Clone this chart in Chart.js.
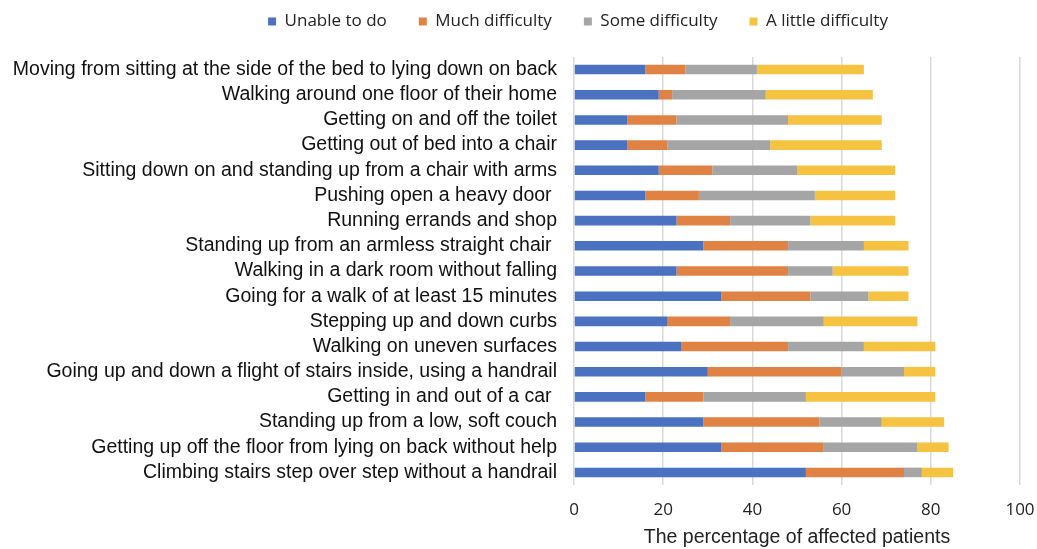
<!DOCTYPE html>
<html><head><meta charset="utf-8">
<script src="https://cdn.jsdelivr.net/npm/chart.js@4"></script>
<style>html,body{margin:0;padding:0;background:#fff;}#wrap{width:1037px;height:549px;}</style>
</head><body><div id="wrap"><canvas id="c" width="1037" height="549"></canvas></div>
<script>
const categories = [
  "Moving from sitting at the side of the bed to lying down on back",
  "Walking around one floor of their home",
  "Getting on and off the toilet",
  "Getting out of bed into a chair",
  "Sitting down on and standing up from a chair with arms",
  "Pushing open a heavy door ",
  "Running errands and shop",
  "Standing up from an armless straight chair ",
  "Walking in a dark room without falling",
  "Going for a walk of at least 15 minutes",
  "Stepping up and down curbs",
  "Walking on uneven surfaces",
  "Going up and down a flight of stairs inside, using a handrail",
  "Getting in and out of a car ",
  "Standing up from a low, soft couch",
  "Getting up off the floor from lying on back without help",
  "Climbing stairs step over step without a handrail"
];
const unableToDo      = [16, 19, 12, 12, 19, 16, 23, 29, 23, 33, 21, 24, 30, 16, 29, 33, 52];
const muchDifficulty  = [ 9,  3, 11,  9, 12, 12, 12, 19, 25, 20, 14, 24, 30, 13, 26, 23, 22];
const someDifficulty  = [16, 21, 25, 23, 19, 26, 18, 17, 10, 13, 21, 17, 14, 23, 14, 21,  4];
const littleDifficulty= [24, 24, 21, 25, 22, 18, 19, 10, 17,  9, 21, 16,  7, 29, 14,  7,  7];
const seriesNames = ["Unable to do", "Much difficulty", "Some difficulty", "A little difficulty"];
const xTicks = [0, 20, 40, 60, 80, 100];
const axisTitle = "The percentage of affected patients";

const colors = ["#4A72C0", "#E08243", "#A5A5A5", "#F5C242"];
const seriesData = [unableToDo, muchDifficulty, someDifficulty, littleDifficulty];

const legendShift = {
  id: 'legendShift',
  beforeLayout(chart) {
    const lg = chart.legend;
    if (lg && !lg._patched) {
      const orig = lg.fit;
      lg.fit = function () { orig.call(this); this.height = 41; };
      lg._patched = true;
    }
  },
  afterLayout(chart) {
    const lg = chart.legend;
    if (lg) { lg.left += 68; lg.right += 68; lg.top -= 35; }
  }
};

new Chart(document.getElementById('c'), {
  type: 'bar',
  data: {
    labels: categories,
    datasets: seriesNames.map((n, i) => ({
      label: n,
      data: seriesData[i],
      backgroundColor: colors[i],
      borderWidth: 0,
      barPercentage: 0.38,
      categoryPercentage: 1.0
    }))
  },
  options: {
    indexAxis: 'y',
    responsive: false,
    animation: false,
    devicePixelRatio: 1,
    layout: { padding: { top: 16, right: 17, bottom: 0, left: 0 } },
    plugins: {
      legend: {
        position: 'top',
        labels: {
          boxWidth: 8, boxHeight: 8, padding: 32,
          color: '#222',
          font: { family: 'Open Sans', size: 17 }
        }
      },
      tooltip: { enabled: false }
    },
    scales: {
      x: {
        stacked: true,
        min: 0, max: 100,
        afterBuildTicks(scale) { scale.ticks = xTicks.map(v => ({ value: v })); },
        afterFit(scale) { scale.height = 64; scale.paddingRight = 0; },
        grid: { color: '#D9D9D9', lineWidth: 1.5, drawTicks: false },
        border: { display: false },
        ticks: { padding: 15, color: '#222', font: { family: 'Open Sans', size: 17 } },
        title: { display: true, text: axisTitle, color: '#222', padding: { top: 0, bottom: 0 }, font: { family: 'Liberation Sans', size: 19.5 } }
      },
      y: {
        stacked: true,
        afterFit(scale) { scale.width = 574; },
        grid: { display: false, drawTicks: false },
        border: { display: false },
        ticks: { padding: 17, color: '#111', autoSkip: false, font: { family: 'Liberation Sans', size: 19.5 } }
      }
    }
  },
  plugins: [legendShift]
});
</script></body></html>
